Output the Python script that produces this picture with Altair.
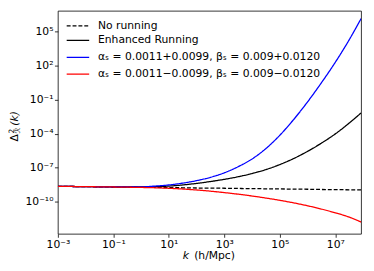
import altair as alt
import pandas as pd

# wavenumber grid (h/Mpc)
k_vals = [1e-3, 1e-2, 1e-1, 1.0, 3.16, 10.0, 31.6, 100.0, 316.0, 1e3, 3.16e3, 1e4,
          3.16e4, 1e5, 3.16e5, 1e6, 3.16e6, 1e7, 3.16e7, 8.5e7]

no_running = [2.34e-9, 2.19e-9, 2.04e-9, 1.91e-9, 1.86e-9, 1.78e-9, 1.74e-9, 1.66e-9,
              1.62e-9, 1.58e-9, 1.51e-9, 1.48e-9, 1.41e-9, 1.38e-9, 1.32e-9, 1.29e-9,
              1.23e-9, 1.20e-9, 1.15e-9, 1.12e-9]
enhanced = [2.34e-9, 2.19e-9, 2.04e-9, 2.04e-9, 2.14e-9, 2.45e-9, 3.09e-9, 4.22e-9,
            6.17e-9, 9.66e-9, 1.64e-8, 3.13e-8, 7.0e-8, 1.93e-7, 6.61e-7, 2.82e-6,
            1.50e-5, 9.77e-5, 8.71e-4, 6.92e-3]
plus_run = [2.34e-9, 2.19e-9, 2.09e-9, 2.09e-9, 2.45e-9, 3.09e-9, 4.47e-9, 7.41e-9,
            1.45e-8, 3.63e-8, 1.26e-7, 6.03e-7, 5.01e-6, 7.41e-5, 1.82e-3, 6.46e-2,
            3.16, 200.0, 1.91e4, 1.41e6]
minus_run = [2.34e-9, 2.19e-9, 2.04e-9, 1.86e-9, 1.74e-9, 1.57e-9, 1.35e-9, 1.11e-9,
             8.71e-10, 6.53e-10, 4.73e-10, 3.27e-10, 2.16e-10, 1.36e-10, 8.13e-11,
             4.52e-11, 2.32e-11, 1.08e-11, 4.52e-12, 1.66e-12]

labels = ["No running", "Enhanced Running",
          "\u03b1\u209b = 0.0011+0.0099, \u03b2\u209b = 0.009+0.0120",
          "\u03b1\u209b = 0.0011\u22120.0099, \u03b2\u209b = 0.009\u22120.0120"]
colors = ["black", "black", "#0000ff", "#ff0000"]
dashes = [[4, 2], [1, 0], [1, 0], [1, 0]]

x_ticks = [1e-3, 1e-1, 1e1, 1e3, 1e5, 1e7]
y_ticks = [1e-10, 1e-7, 1e-4, 1e-1, 1e2, 1e5]

W, H = 310, 228
FONT = "DejaVu Sans"

SUP = str.maketrans("-0123456789", "\u207b\u2070\u00b9\u00b2\u00b3\u2074\u2075\u2076\u2077\u2078\u2079")


def label_expr(exps):
    e = "round(log(datum.value)/LN10)"
    s = "''"
    for n in exps:
        s = f"{e} == {n} ? '10{str(n).translate(SUP)}' : ({s})"
    return s


axis_common = dict(title=None, grid=False, domain=False, tickSize=3.5, tickWidth=0.8,
                   tickColor="black", labelFont=FONT, labelFontSize=11, labelColor="black",
                   labelPadding=1.5, labelFlush=False, labelOverlap=False)
x_axis = alt.Axis(values=x_ticks, labelExpr=label_expr([-3, -1, 1, 3, 5, 7]), **axis_common)
y_axis = alt.Axis(values=y_ticks, labelExpr=label_expr([-10, -7, -4, -1, 2, 5]), **axis_common)

series = [no_running, enhanced, plus_run, minus_run]
xscale = alt.Scale(type="log", domain=[1e-3, 8.5e7], nice=False)
yscale = alt.Scale(type="log", domain=[10 ** -12.82, 10 ** 6.835], nice=False)

layers = []
for i, (lab, vals) in enumerate(zip(labels, series)):
    df = pd.DataFrame({"k": k_vals, "P": vals, "series": lab})
    layers.append(
        alt.Chart(df).mark_line(color=colors[i], strokeDash=dashes[i], strokeWidth=1.3,
                                interpolate="monotone", clip=True).encode(
            x=alt.X("k:Q", scale=xscale, axis=x_axis),
            y=alt.Y("P:Q", scale=yscale, axis=y_axis),
        )
    )

# legend (manual, matplotlib style)
row_y = [15.3, 30.3, 47.6, 64.6]
for i, lab in enumerate(labels):
    ldf = pd.DataFrame({"label": [lab]})
    layers.append(alt.Chart(ldf).mark_rule(color=colors[i], strokeDash=dashes[i], strokeWidth=1.3).encode(
        x=alt.value(9), x2=alt.value(32), y=alt.value(row_y[i])))
    layers.append(alt.Chart(ldf).mark_text(align="left", baseline="middle", font=FONT, fontSize=11,
                                           color="black").encode(
        x=alt.value(41), y=alt.value(row_y[i]), text="label:N"))


def txt(t, x, y, size=11, style="normal", angle=0):
    return alt.Chart(pd.DataFrame({"t": [t]})).mark_text(
        align="left", baseline="alphabetic", font=FONT, fontSize=size, fontStyle=style,
        angle=angle, color="black").encode(x=alt.value(x), y=alt.value(y), text="t:N")


# axis titles
layers += [
    txt("k", 127.7, 253.5, style="italic"),
    txt("(h/Mpc)", 139.3, 253.5),
    txt("\u0394", -41, 133.7, angle=270),
    txt("2", -45, 125.5, size=7.5, angle=270),
    txt("\u211b", -38.5, 125.5, size=7.5, style="italic", angle=270),
    txt("(k)", -41, 117.5, style="italic", angle=270),
]

chart = alt.layer(*layers).properties(
    width=W, height=H,
    autosize=alt.AutoSizeParams(type="none"),
    padding={"left": 51, "top": 0, "right": 5, "bottom": 31},
).configure_view(stroke="black", strokeWidth=0.8)

chart.save("out.html", embed_options={"renderer": "svg", "actions": False})
